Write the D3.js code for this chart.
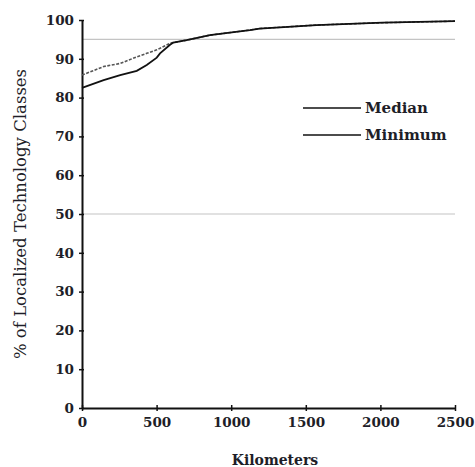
<!DOCTYPE html>
<html>
<head>
<meta charset="utf-8">
<script src="https://cdn.jsdelivr.net/npm/d3@7"></script>
<style>
  body { margin: 0; background: #fff; }
  text { font-family: "DejaVu Serif", "Liberation Serif", serif; }
</style>
</head>
<body>
<div id="chart"></div>
<script>
// data
var km = [0, 145, 256, 367, 434, 501, 523, 590, 612, 701, 857, 1125, 1191, 1571, 2014, 2500];
var median = [85.8, 88.0, 88.8, 90.5, 91.4, 92.3, 92.7, 94.0, 94.2, 94.8, 96.1, 97.4, 97.8, 98.7, 99.3, 99.7];
var minimum = [82.5, 84.5, 85.8, 86.9, 88.4, 90.3, 91.4, 93.6, 94.2, 94.8, 96.1, 97.4, 97.8, 98.7, 99.3, 99.7];
var xTicks = [0, 500, 1000, 1500, 2000, 2500];
var yTicks = [0, 10, 20, 30, 40, 50, 60, 70, 80, 90, 100];
var refLines = [95, 50];
var seriesNames = ["Median", "Minimum"];

var width = 475, height = 467;
var margin = {top: 20, right: 20, bottom: 59, left: 82};

var svg = d3.select("#chart").append("svg")
    .attr("width", width)
    .attr("height", height);

var x = d3.scaleLinear().domain([0, 2500]).range([margin.left, width - margin.right]);
var y = d3.scaleLinear().domain([0, 100]).range([height - margin.bottom, margin.top]);

// grey reference lines
svg.append("g")
  .selectAll("line")
  .data(refLines)
  .enter().append("line")
    .attr("x1", x(0)).attr("x2", x(2500))
    .attr("y1", function(d) { return y(d); })
    .attr("y2", function(d) { return y(d); })
    .attr("stroke", "#c4c4c4")
    .attr("stroke-width", 1.2);

// axes
var xAxis = svg.append("g")
    .attr("transform", "translate(0," + y(0) + ")")
    .call(d3.axisBottom(x).tickValues(xTicks).tickSizeInner(3).tickSizeOuter(0).tickPadding(5).tickFormat(d3.format("d")));
var yAxis = svg.append("g")
    .attr("transform", "translate(" + x(0) + ",0)")
    .call(d3.axisLeft(y).tickValues(yTicks).tickSizeInner(3).tickSizeOuter(0).tickPadding(5));

[xAxis, yAxis].forEach(function(ax) {
  ax.select(".domain").attr("stroke", "#111").attr("stroke-width", 2);
  ax.selectAll(".tick line").attr("stroke", "#111").attr("stroke-width", 1.5);
  ax.selectAll(".tick text")
    .attr("fill", "#1e1e28")
    .style("font-family", "'DejaVu Serif', serif")
    .style("font-weight", "bold")
    .style("font-size", "13.5px");
});
// ticks cross the axis line
xAxis.selectAll(".tick line").attr("y1", -3).attr("y2", 3);
yAxis.selectAll(".tick line").attr("x1", -3).attr("x2", 2);
xAxis.selectAll(".tick text").attr("dy", "0.8em");

// lines
var line = d3.line()
    .x(function(d) { return x(d[0]); })
    .y(function(d) { return y(d[1]); });

svg.append("path")
    .datum(km.map(function(k, i) { return [k, median[i]]; }))
    .attr("d", line)
    .attr("fill", "none")
    .attr("stroke", "#555")
    .attr("stroke-width", 1.6)
    .attr("stroke-dasharray", "3,1.5");

svg.append("path")
    .datum(km.map(function(k, i) { return [k, minimum[i]]; }))
    .attr("d", line)
    .attr("fill", "none")
    .attr("stroke", "#111")
    .attr("stroke-width", 1.8);

// legend
var legend = svg.append("g")
  .selectAll("g")
  .data(seriesNames)
  .enter().append("g")
    .attr("transform", function(d, i) { return "translate(303," + (108 + i * 27) + ")"; });
legend.append("line")
    .attr("x1", 0).attr("x2", 58)
    .attr("stroke", "#111").attr("stroke-width", 1.5);
legend.append("text")
    .attr("x", 62).attr("dy", "0.35em")
    .attr("fill", "#1e1e28")
    .style("font-weight", "bold")
    .style("font-size", "15px")
    .text(function(d) { return d; });

// axis titles
svg.append("text")
    .attr("transform", "translate(20," + ((y(0) + y(100)) / 2) + ")rotate(-90)")
    .attr("text-anchor", "middle")
    .attr("dy", "0.35em")
    .attr("fill", "#1e1e28")
    .style("font-family", "'DejaVu Serif', serif")
    .style("font-size", "16.5px")
    .text("% of Localized Technology Classes");

svg.append("text")
    .attr("x", 275)
    .attr("y", 465)
    .attr("text-anchor", "middle")
    .attr("fill", "#1e1e28")
    .style("font-weight", "bold")
    .style("font-size", "14px")
    .text("Kilometers");
</script>
</body>
</html>
